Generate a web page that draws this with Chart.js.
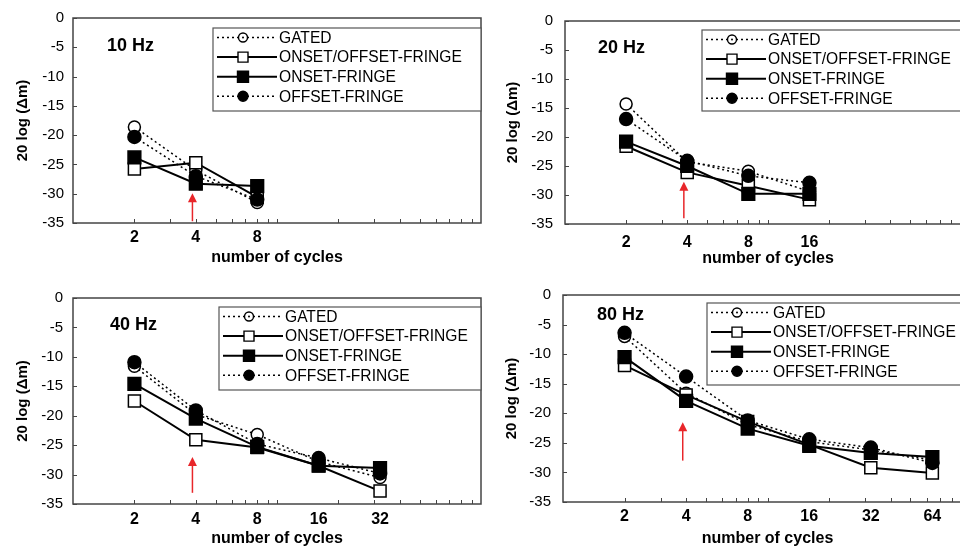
<!DOCTYPE html>
<html>
<head>
<meta charset="utf-8">
<script src="https://cdn.jsdelivr.net/npm/chart.js@4.4.1/dist/chart.umd.min.js"></script>
<style>
  html, body { margin: 0; padding: 0; background: #fff; }
  #wrap { position: relative; width: 960px; height: 548px; overflow: hidden; background: #fff; }
  #wrap canvas { position: absolute; }
</style>
</head>
<body>
<div id="wrap">
  <canvas id="c10" width="485" height="274" style="left:0;top:0"></canvas>
  <canvas id="c20" width="490" height="274" style="left:485px;top:0"></canvas>
  <canvas id="c40" width="485" height="274" style="left:0;top:274px"></canvas>
  <canvas id="c80" width="490" height="274" style="left:485px;top:274px"></canvas>
</div>
<script>
// series names (legend)
const seriesNames = ["GATED", "ONSET/OFFSET-FRINGE", "ONSET-FRINGE", "OFFSET-FRINGE"];

// 10 Hz
const cycles10 = [2, 4, 8];
const gated10 = [-18.6, -26.0, -31.5];
const onOff10 = [-25.8, -24.7, -30.6];
const onset10 = [-23.8, -28.3, -28.7];
const offset10 = [-20.3, -27.0, -31.0];

// 20 Hz
const cycles20 = [2, 4, 8, 16];
const gated20 = [-14.3, -24.3, -25.9, -29.4];
const onOff20 = [-21.6, -26.1, -28.4, -30.8];
const onset20 = [-20.8, -25.0, -29.8, -29.8];
const offset20 = [-16.9, -24.1, -26.7, -27.9];

// 40 Hz
const cycles40 = [2, 4, 8, 16, 32];
const gated40 = [-11.6, -19.8, -23.2, -27.8, -30.5];
const onOff40 = [-17.5, -24.1, -25.4, -28.5, -32.8];
const onset40 = [-14.6, -20.5, -25.3, -28.5, -28.9];
const offset40 = [-10.9, -19.1, -24.8, -27.2, -29.8];

// 80 Hz
const cycles80 = [2, 4, 8, 16, 32, 64];
const gated80 = [-7.0, -16.6, -21.9, -24.8, -26.2, -27.9];
const onOff80 = [-11.9, -16.9, -21.4, -25.3, -29.2, -30.1];
const onset80 = [-10.5, -17.9, -22.6, -25.5, -26.7, -27.4];
const offset80 = [-6.4, -13.8, -21.2, -24.4, -25.8, -28.4];

// axes
const yTickValues = [0, -5, -10, -15, -20, -25, -30, -35];
const xMinorTicks = [2, 3, 4, 5, 6, 7, 8, 9, 10, 20, 30, 40, 50, 60, 70, 80, 90];

// red arrows pointing at 4 cycles: [x, yBottom, yTop]
const arrow10 = [3.85, -34.7, -29.9];
const arrow20 = [3.85, -34.0, -27.7];
const arrow40 = [3.85, -33.1, -27.0];
const arrow80 = [3.85, -28.0, -21.5];

const FONT = "'Liberation Sans', Arial, sans-serif";
Chart.defaults.font.family = FONT;
Chart.defaults.color = "#000";

const styles = [
  { dash: [2, 3], width: 1.5, shape: "circle", fill: "#fff", r: 6, order: 3 },
  { dash: [], width: 2, shape: "rect", fill: "#fff", r: 8.5, order: 2 },
  { dash: [], width: 2, shape: "rect", fill: "#000", r: 9, order: 1 },
  { dash: [2, 3], width: 1.5, shape: "circle", fill: "#000", r: 6.5, order: 0 }
];

function drawMarker(ctx, shape, x, y, size, fill) {
  ctx.save();
  ctx.setLineDash([]);
  ctx.fillStyle = fill;
  ctx.strokeStyle = "#000";
  ctx.lineWidth = 1.4;
  ctx.beginPath();
  if (shape === "circle") ctx.arc(x, y, size, 0, Math.PI * 2);
  else ctx.rect(x - size, y - size, size * 2, size * 2);
  ctx.fill();
  ctx.stroke();
  ctx.restore();
}

const panelDecor = {
  id: "panelDecor",
  beforeDatasetsDraw(chart, args, o) {
    const { ctx, chartArea: a, scales: { x, y } } = chart;
    ctx.save();
    ctx.strokeStyle = "#444";
    ctx.lineWidth = 1.5;
    ctx.strokeRect(a.left, a.top, a.right - a.left, a.bottom - a.top);
    ctx.lineWidth = 1;
    ctx.beginPath();
    xMinorTicks.forEach(v => {
      const px = Math.round(x.getPixelForValue(v)) + 0.5;
      ctx.moveTo(px, a.bottom);
      ctx.lineTo(px, a.bottom - 4);
    });
    yTickValues.forEach(v => {
      const py = Math.round(y.getPixelForValue(v)) + 0.5;
      ctx.moveTo(a.left, py);
      ctx.lineTo(a.left + 4, py);
    });
    ctx.stroke();

    // red arrow
    const ax = x.getPixelForValue(o.arrow[0]);
    const y0 = y.getPixelForValue(o.arrow[1]);
    const y1 = y.getPixelForValue(o.arrow[2]);
    ctx.strokeStyle = "#e8262a";
    ctx.fillStyle = "#e8262a";
    ctx.lineWidth = 1.5;
    ctx.beginPath();
    ctx.moveTo(ax, y0);
    ctx.lineTo(ax, y1 + 8);
    ctx.stroke();
    ctx.beginPath();
    ctx.moveTo(ax, y1);
    ctx.lineTo(ax - 4.5, y1 + 9);
    ctx.lineTo(ax + 4.5, y1 + 9);
    ctx.closePath();
    ctx.fill();
    ctx.restore();
  },
  afterDraw(chart, args, o) {
    const { ctx, chartArea: a } = chart;
    ctx.save();
    // panel label
    ctx.font = "bold 18px " + FONT;
    ctx.fillStyle = "#000";
    ctx.textBaseline = "middle";
    ctx.fillText(o.label, a.left + o.labelPos[0], a.top + o.labelPos[1]);

    // legend box
    const bx = a.left + o.legendPos[0];
    const by = a.top + o.legendPos[1];
    ctx.fillStyle = "#fff";
    ctx.fillRect(bx, by, a.right - bx, o.legendH);
    ctx.strokeStyle = "#555";
    ctx.lineWidth = 1.2;
    ctx.strokeRect(bx, by, a.right - bx, o.legendH);
    ctx.font = "15.6px " + FONT;
    seriesNames.forEach((name, i) => {
      const s = styles[i];
      const ry = by + 9.5 + i * 19.6;
      ctx.strokeStyle = "#000";
      ctx.lineWidth = s.width;
      ctx.setLineDash(s.dash);
      ctx.beginPath();
      ctx.moveTo(bx + 4, ry);
      ctx.lineTo(bx + 64, ry);
      ctx.stroke();
      ctx.setLineDash([]);
      const size = s.shape === "circle" ? (s.fill === "#fff" ? 4.5 : 5) : (s.fill === "#fff" ? 5 : 5.5);
      drawMarker(ctx, s.shape, bx + 30, ry, size, s.fill);
      if (i === 0) {
        ctx.beginPath();
        ctx.fillStyle = "#000";
        ctx.arc(bx + 30, ry, 1, 0, Math.PI * 2);
        ctx.fill();
      }
      ctx.fillStyle = "#000";
      ctx.fillText(name, bx + 66, ry + 1);
    });
    ctx.restore();
  }
};

function makePanel(id, label, cycles, series, arrow, geo) {
  const datasets = series.map((vals, i) => {
    const s = styles[i];
    return {
      label: seriesNames[i],
      data: cycles.map((c, k) => ({ x: c, y: vals[k] })),
      borderColor: "#000",
      borderWidth: s.width,
      borderDash: s.dash,
      pointStyle: s.shape,
      pointRadius: s.r,
      pointBackgroundColor: s.fill,
      pointBorderColor: "#000",
      pointBorderWidth: 1.5,
      fill: false,
      tension: 0,
      order: s.order
    };
  });
  new Chart(document.getElementById(id).getContext("2d"), {
    type: "line",
    data: { datasets },
    plugins: [panelDecor],
    options: {
      responsive: false,
      animation: false,
      events: [],
      layout: { autoPadding: false, padding: { top: geo.padTop, right: geo.padRight, left: 0, bottom: 0 } },
      plugins: {
        legend: { display: false },
        tooltip: { enabled: false },
        panelDecor: { label, arrow, labelPos: geo.labelPos, legendPos: geo.legendPos, legendH: geo.legendH }
      },
      scales: {
        x: {
          type: "logarithmic",
          min: 1,
          max: 100,
          grid: { display: false, drawTicks: false },
          border: { display: false },
          afterBuildTicks: scale => { scale.ticks = cycles.map(v => ({ value: v })); },
          afterFit: scale => { scale.height = geo.xH; },
          ticks: {
            autoSkip: false,
            maxRotation: 0,
            padding: geo.xPad,
            font: { size: 16, weight: "bold" },
            callback: v => String(v)
          },
          title: {
            display: true,
            text: "number of cycles",
            font: { size: 16, weight: "bold" },
            padding: { top: 0, bottom: geo.titlePad }
          }
        },
        y: {
          min: -35,
          max: 0,
          grid: { display: false, drawTicks: false },
          border: { display: false },
          afterFit: scale => { scale.width = geo.yW; },
          ticks: {
            stepSize: 5,
            padding: geo.yPad,
            font: { size: 15 }
          },
          title: {
            display: true,
            text: "20 log (Δm)",
            font: { size: 15, weight: "bold" },
            padding: { top: geo.yTitlePad, bottom: 0 }
          }
        }
      }
    }
  });
}

makePanel("c10", "10 Hz", cycles10, [gated10, onOff10, onset10, offset10], arrow10,
  { yW: 73, padTop: 18, xH: 51, padRight: 4, xPad: 5, titlePad: 7, yPad: 9, yTitlePad: 14,
    labelPos: [34, 28], legendPos: [140, 10], legendH: 83 });
makePanel("c20", "20 Hz", cycles20, [gated20, onOff20, onset20, offset20], arrow20,
  { yW: 80, padTop: 18, xH: 50, padRight: 4, xPad: 9, titlePad: 6, yPad: 12, yTitlePad: 19,
    labelPos: [33, 27], legendPos: [137, 9], legendH: 81 });
makePanel("c40", "40 Hz", cycles40, [gated40, onOff40, onset40, offset40], arrow40,
  { yW: 73, padTop: 24, xH: 44, padRight: 4, xPad: 6, titlePad: 0, yPad: 10, yTitlePad: 14,
    labelPos: [37, 27], legendPos: [146, 9], legendH: 83 });
makePanel("c80", "80 Hz", cycles80, [gated80, onOff80, onset80, offset80], arrow80,
  { yW: 78, padTop: 21, xH: 46, padRight: 3, xPad: 5, titlePad: 0, yPad: 12, yTitlePad: 18,
    labelPos: [34, 20], legendPos: [144, 8], legendH: 82 });
</script>
</body>
</html>
